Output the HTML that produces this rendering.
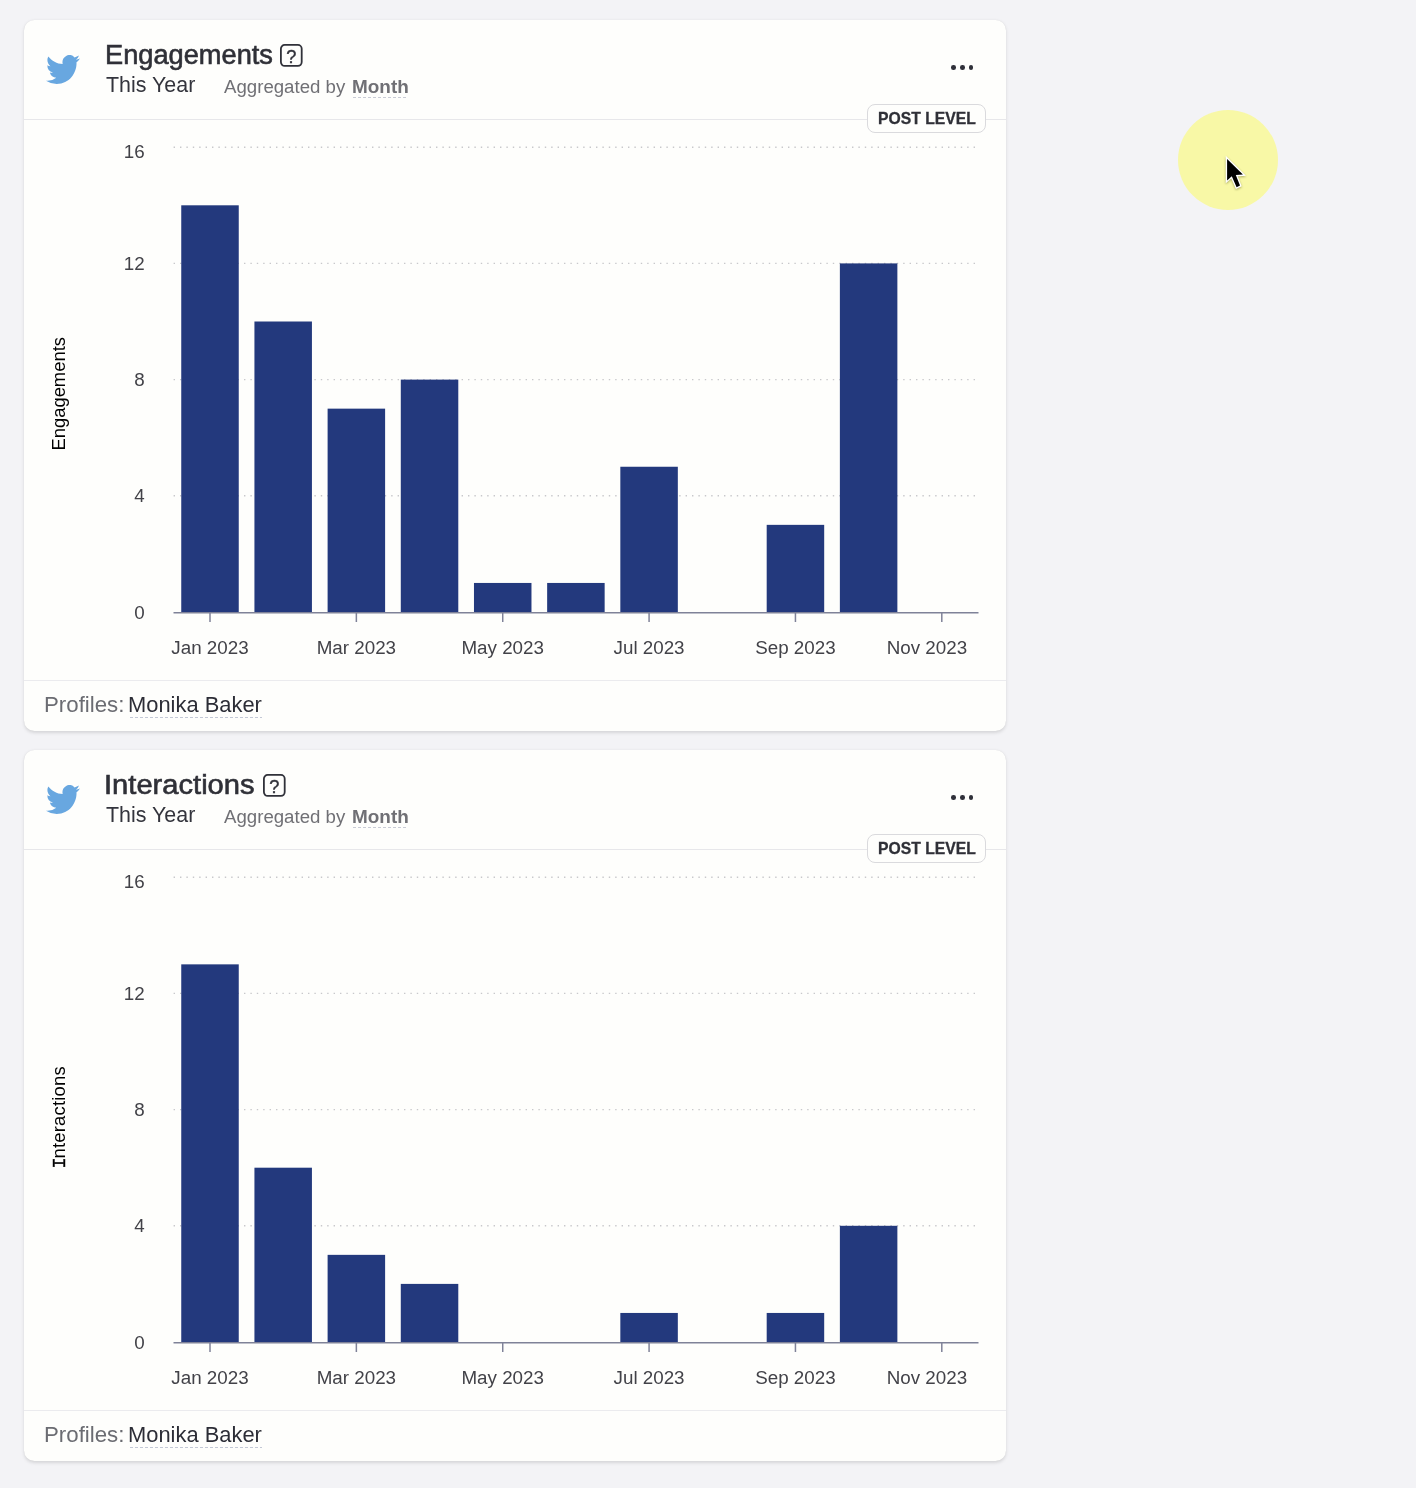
<!DOCTYPE html>
<html lang="en"><head><meta charset="utf-8"><title>Report</title>
<style>
html,body{margin:0;padding:0}
body{width:1416px;height:1488px;background:#f3f3f6;position:relative;overflow:hidden;font-family:"Liberation Sans",sans-serif;color:#2e2f3a}
.card{position:absolute;left:24px;width:982px;height:710.6px;background:#fefefc;border-radius:10.5px;box-shadow:0 1.5px 3.5px rgba(0,0,0,.12),0 0 1px rgba(0,0,0,.07)}
.card>*{position:absolute}
.t{line-height:1;white-space:nowrap;transform-origin:0 0;display:block}
.bird{left:22.2px;top:34.7px;width:34px;height:29px}
.q{top:23px}
.qt{font-size:18.2px;fill:#303139;stroke:#303139;stroke-width:.4px;font-family:"Liberation Sans",sans-serif}
.aggul{left:328.5px;top:76.8px;width:55.6px;height:1px;background:repeating-linear-gradient(90deg,#c9ccd6 0 3px,transparent 3px 5px)}
.dots{left:927px;top:44.8px;width:24px;height:6px}
.dots i{position:absolute;top:.2px;width:4.7px;height:4.7px;border-radius:50%;background:#2f3039}
.dots i:nth-child(1){left:0.1px}.dots i:nth-child(2){left:8.9px}.dots i:nth-child(3){left:17.6px}
.hline{left:0;right:0;top:99px;height:1px;background:#e7e7ea}
.badge{left:843px;top:84.2px;width:117px;height:27.2px;border:1px solid #dadadd;border-radius:8px;background:#fefefc}
.chart{left:0;top:90px}
.grid{stroke:#c8c8cb;stroke-width:1.4;stroke-dasharray:1.4 5;}
.axis{stroke:#7f8298;stroke-width:1.5}
.yl,.xl{font-size:18.8px;fill:#424248;font-family:"Liberation Sans",sans-serif}

.yt{font-size:18.4px;fill:#000;font-family:"Liberation Sans",sans-serif}
.mono{font-family:"Liberation Mono",monospace;stroke:#000;stroke-width:.45px}
.fline{left:0;right:0;top:660px;height:1px;background:#ebebee}
.pnul{left:105.8px;top:697px;width:132.4px;height:1px;background:repeating-linear-gradient(90deg,#c3c8d6 0 3px,transparent 3px 5px)}
.halo{position:absolute;left:1177.5px;top:109.8px;width:100px;height:100px;border-radius:50%;background:#f8f8a6}
.cur{position:absolute;left:1220px;top:150px;width:30px;height:42px;overflow:visible;filter:drop-shadow(.8px 1.6px .8px rgba(60,60,0,.4))}
</style></head><body>
<div class="card" style="top:20px">
<svg class="bird" viewBox="0 2.2 24 19.6" preserveAspectRatio="none"><path fill="#68a7e0" d="M23.953 4.57a10 10 0 01-2.825.775 4.958 4.958 0 002.163-2.723c-.951.555-2.005.959-3.127 1.184a4.92 4.92 0 00-8.384 4.482C7.69 8.095 4.067 6.13 1.64 3.162a4.822 4.822 0 00-.666 2.475c0 1.71.87 3.213 2.188 4.096a4.904 4.904 0 01-2.228-.616v.06a4.923 4.923 0 003.946 4.827 4.996 4.996 0 01-2.212.085 4.936 4.936 0 004.604 3.417 9.867 9.867 0 01-6.102 2.105c-.39 0-.779-.023-1.17-.067a13.995 13.995 0 007.557 2.209c9.053 0 13.998-7.496 13.998-13.985 0-.21 0-.42-.015-.63A9.935 9.935 0 0024 4.59z"/></svg>
<svg class="q" style="left:255.2px" width="26" height="26" viewBox="-1 -1 26 26"><rect x="0.9" y="0.9" width="20.8" height="21" rx="3.8" fill="none" stroke="#303139" stroke-width="1.8"/><text x="11.4" y="19" text-anchor="middle" class="qt">?</text></svg>
<div class="aggul"></div>
<div class="dots"><i></i><i></i><i></i></div>
<div class="hline"></div>
<div class="badge"></div>
<svg class="chart" width="982" height="580" viewBox="24 110 982 580">
<line x1="173.6" x2="976" y1="495.80" y2="495.80" class="grid"/>
<line x1="173.6" x2="976" y1="379.60" y2="379.60" class="grid"/>
<line x1="173.6" x2="976" y1="263.40" y2="263.40" class="grid"/>
<line x1="173.6" x2="976" y1="147.20" y2="147.20" class="grid"/>
<rect x="181.25" y="205.30" width="57.5" height="407.10" fill="#23397d"/>
<rect x="254.43" y="321.50" width="57.5" height="290.90" fill="#23397d"/>
<rect x="327.61" y="408.65" width="57.5" height="203.75" fill="#23397d"/>
<rect x="400.79" y="379.60" width="57.5" height="232.80" fill="#23397d"/>
<rect x="473.97" y="582.95" width="57.5" height="29.45" fill="#23397d"/>
<rect x="547.15" y="582.95" width="57.5" height="29.45" fill="#23397d"/>
<rect x="620.33" y="466.75" width="57.5" height="145.65" fill="#23397d"/>
<rect x="766.69" y="524.85" width="57.5" height="87.55" fill="#23397d"/>
<rect x="839.87" y="263.40" width="57.5" height="349.00" fill="#23397d"/>
<line x1="173.5" x2="978.5" y1="612.7" y2="612.7" class="axis"/>
<line x1="210.00" x2="210.00" y1="612.7" y2="622" class="axis"/>
<line x1="356.36" x2="356.36" y1="612.7" y2="622" class="axis"/>
<line x1="502.72" x2="502.72" y1="612.7" y2="622" class="axis"/>
<line x1="649.08" x2="649.08" y1="612.7" y2="622" class="axis"/>
<line x1="795.44" x2="795.44" y1="612.7" y2="622" class="axis"/>
<line x1="941.80" x2="941.80" y1="612.7" y2="622" class="axis"/>
<text class="yl" x="144.6" y="619.30" text-anchor="end">0</text>
<text class="yl" x="144.6" y="502.10" text-anchor="end">4</text>
<text class="yl" x="144.6" y="385.90" text-anchor="end">8</text>
<text class="yl" x="144.6" y="269.70" text-anchor="end">12</text>
<text class="yl" x="144.6" y="158.00" text-anchor="end">16</text>
<text class="xl" x="210.00" y="654.2" text-anchor="middle">Jan 2023</text>
<text class="xl" x="356.36" y="654.2" text-anchor="middle">Mar 2023</text>
<text class="xl" x="502.72" y="654.2" text-anchor="middle">May 2023</text>
<text class="xl" x="649.08" y="654.2" text-anchor="middle">Jul 2023</text>
<text class="xl" x="795.44" y="654.2" text-anchor="middle">Sep 2023</text>
<text class="xl" x="926.90" y="654.2" text-anchor="middle">Nov 2023</text>
<text class="yt" transform="translate(65.3 393.8) rotate(-90)" text-anchor="middle">Engagements</text>
</svg>
<div class="fline"></div>
<div class="pnul"></div>
<span class="t title" style="left:80.68px;top:21.74px;font-size:27px;color:#2f3037;transform:scaleX(1.0079);-webkit-text-stroke:0.6px #2f3037;">Engagements</span>
<span class="t sub" style="left:82.00px;top:54.06px;font-size:21.9px;color:#33343c;transform:scaleX(0.9780);">This Year</span>
<span class="t agg" style="left:199.90px;top:57.69px;font-size:18.8px;color:#707075;transform:scaleX(0.9926);">Aggregated by</span>
<span class="t aggb" style="left:327.69px;top:57.69px;font-size:18.8px;color:#707075;transform:scaleX(1.0074);font-weight:bold;">Month</span>
<span class="t badget" style="left:853.52px;top:90.47px;font-size:16.1px;color:#2f3037;transform:scaleX(0.9768);font-weight:bold;-webkit-text-stroke:0.3px #2f3037;">POST LEVEL</span>
<span class="t pl" style="left:19.88px;top:673.98px;font-size:22px;color:#6b6c72;transform:scaleX(1.0120);">Profiles:</span>
<span class="t pn" style="left:104.31px;top:673.98px;font-size:22px;color:#2c2d36;transform:scaleX(0.9955);">Monika Baker</span>
</div>
<div class="card" style="top:750px">
<svg class="bird" viewBox="0 2.2 24 19.6" preserveAspectRatio="none"><path fill="#68a7e0" d="M23.953 4.57a10 10 0 01-2.825.775 4.958 4.958 0 002.163-2.723c-.951.555-2.005.959-3.127 1.184a4.92 4.92 0 00-8.384 4.482C7.69 8.095 4.067 6.13 1.64 3.162a4.822 4.822 0 00-.666 2.475c0 1.71.87 3.213 2.188 4.096a4.904 4.904 0 01-2.228-.616v.06a4.923 4.923 0 003.946 4.827 4.996 4.996 0 01-2.212.085 4.936 4.936 0 004.604 3.417 9.867 9.867 0 01-6.102 2.105c-.39 0-.779-.023-1.17-.067a13.995 13.995 0 007.557 2.209c9.053 0 13.998-7.496 13.998-13.985 0-.21 0-.42-.015-.63A9.935 9.935 0 0024 4.59z"/></svg>
<svg class="q" style="left:238.2px" width="26" height="26" viewBox="-1 -1 26 26"><rect x="0.9" y="0.9" width="20.8" height="21" rx="3.8" fill="none" stroke="#303139" stroke-width="1.8"/><text x="11.4" y="19" text-anchor="middle" class="qt">?</text></svg>
<div class="aggul"></div>
<div class="dots"><i></i><i></i><i></i></div>
<div class="hline"></div>
<div class="badge"></div>
<svg class="chart" width="982" height="580" viewBox="24 110 982 580">
<line x1="173.6" x2="976" y1="495.80" y2="495.80" class="grid"/>
<line x1="173.6" x2="976" y1="379.60" y2="379.60" class="grid"/>
<line x1="173.6" x2="976" y1="263.40" y2="263.40" class="grid"/>
<line x1="173.6" x2="976" y1="147.20" y2="147.20" class="grid"/>
<rect x="181.25" y="234.35" width="57.5" height="378.05" fill="#23397d"/>
<rect x="254.43" y="437.70" width="57.5" height="174.70" fill="#23397d"/>
<rect x="327.61" y="524.85" width="57.5" height="87.55" fill="#23397d"/>
<rect x="400.79" y="553.90" width="57.5" height="58.50" fill="#23397d"/>
<rect x="620.33" y="582.95" width="57.5" height="29.45" fill="#23397d"/>
<rect x="766.69" y="582.95" width="57.5" height="29.45" fill="#23397d"/>
<rect x="839.87" y="495.80" width="57.5" height="116.60" fill="#23397d"/>
<line x1="173.5" x2="978.5" y1="612.7" y2="612.7" class="axis"/>
<line x1="210.00" x2="210.00" y1="612.7" y2="622" class="axis"/>
<line x1="356.36" x2="356.36" y1="612.7" y2="622" class="axis"/>
<line x1="502.72" x2="502.72" y1="612.7" y2="622" class="axis"/>
<line x1="649.08" x2="649.08" y1="612.7" y2="622" class="axis"/>
<line x1="795.44" x2="795.44" y1="612.7" y2="622" class="axis"/>
<line x1="941.80" x2="941.80" y1="612.7" y2="622" class="axis"/>
<text class="yl" x="144.6" y="619.30" text-anchor="end">0</text>
<text class="yl" x="144.6" y="502.10" text-anchor="end">4</text>
<text class="yl" x="144.6" y="385.90" text-anchor="end">8</text>
<text class="yl" x="144.6" y="269.70" text-anchor="end">12</text>
<text class="yl" x="144.6" y="158.00" text-anchor="end">16</text>
<text class="xl" x="210.00" y="654.2" text-anchor="middle">Jan 2023</text>
<text class="xl" x="356.36" y="654.2" text-anchor="middle">Mar 2023</text>
<text class="xl" x="502.72" y="654.2" text-anchor="middle">May 2023</text>
<text class="xl" x="649.08" y="654.2" text-anchor="middle">Jul 2023</text>
<text class="xl" x="795.44" y="654.2" text-anchor="middle">Sep 2023</text>
<text class="xl" x="926.90" y="654.2" text-anchor="middle">Nov 2023</text>
<text class="yt" transform="translate(65.3 387.3) rotate(-90)" text-anchor="middle" letter-spacing=".22"><tspan class="mono">I</tspan><tspan dx="-1.2">nteractions</tspan></text>
</svg>
<div class="fline"></div>
<div class="pnul"></div>
<span class="t title" style="left:80.24px;top:21.74px;font-size:27px;color:#2f3037;transform:scaleX(1.0788);-webkit-text-stroke:0.6px #2f3037;">Interactions</span>
<span class="t sub" style="left:82.00px;top:54.06px;font-size:21.9px;color:#33343c;transform:scaleX(0.9780);">This Year</span>
<span class="t agg" style="left:199.90px;top:57.69px;font-size:18.8px;color:#707075;transform:scaleX(0.9926);">Aggregated by</span>
<span class="t aggb" style="left:327.69px;top:57.69px;font-size:18.8px;color:#707075;transform:scaleX(1.0074);font-weight:bold;">Month</span>
<span class="t badget" style="left:853.52px;top:90.47px;font-size:16.1px;color:#2f3037;transform:scaleX(0.9768);font-weight:bold;-webkit-text-stroke:0.3px #2f3037;">POST LEVEL</span>
<span class="t pl" style="left:19.88px;top:673.98px;font-size:22px;color:#6b6c72;transform:scaleX(1.0120);">Profiles:</span>
<span class="t pn" style="left:104.31px;top:673.98px;font-size:22px;color:#2c2d36;transform:scaleX(0.9955);">Monika Baker</span>
</div>
<div class="halo"></div>
<svg class="cur" viewBox="1220 150 30 42"><path d="M1227.1 158.9 L1227.1 180.4 L1231.8 176.3 L1236.6 187.2 L1240 185.5 L1235.8 175.1 L1242.9 174.6 Z" fill="#000" stroke="#fff" stroke-width="2.7" stroke-linejoin="miter" stroke-miterlimit="6" paint-order="stroke"/></svg>
</body></html>
